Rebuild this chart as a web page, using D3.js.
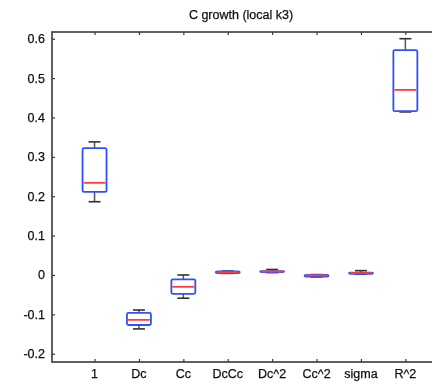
<!DOCTYPE html>
<html>
<head>
<meta charset="utf-8">
<script src="https://cdn.jsdelivr.net/npm/d3@7"></script>
<style>
  body { margin: 0; background: #fff; }
  text { font-family: 'Liberation Sans', Arial, sans-serif; fill: #111; stroke: #111; stroke-width: 0.25px; }
</style>
</head>
<body>
<div id="chart"></div>
<script>
const categories = ['1', 'Dc', 'Cc', 'DcCc', 'Dc^2', 'Cc^2', 'sigma', 'R^2']
const whiskerLow = [0.186, -0.137, -0.059, 0.004, 0.006, -0.005, 0.002, 0.414]
const q1 = [0.211, -0.127, -0.048, 0.005, 0.007, -0.004, 0.003, 0.416]
const medians = [0.234, -0.114, -0.030, 0.007, 0.009, -0.001, 0.005, 0.470]
const q3 = [0.322, -0.096, -0.011, 0.009, 0.010, 0.000, 0.006, 0.571]
const whiskerHigh = [0.338, -0.089, 0.000, 0.010, 0.014, 0.001, 0.011, 0.600]
const yTicks = [-0.2, -0.1, 0, 0.1, 0.2, 0.3, 0.4, 0.5, 0.6]
const title = 'C growth (local k3)'

const data = categories.map((c, i) => ({
  name: c, pos: i + 1,
  lo: whiskerLow[i], q1: q1[i], med: medians[i], q3: q3[i], hi: whiskerHigh[i]
}))

const W = 432, H = 385
const MARGIN = { LEFT: 52, TOP: 32, RIGHT: -8, BOTTOM: 23 }
const WIDTH = W - MARGIN.LEFT - MARGIN.RIGHT
const HEIGHT = H - MARGIN.TOP - MARGIN.BOTTOM

const svg = d3.select('#chart')
  .append('svg')
  .attr('width', W)
  .attr('height', H)

svg.append('defs').append('filter')
  .attr('id', 'soft')
  .append('feGaussianBlur')
  .attr('stdDeviation', 0.45)

const root = svg.append('g').attr('filter', 'url(#soft)')

const g = root.append('g')
  .attr('transform', `translate(${MARGIN.LEFT}, ${MARGIN.TOP})`)

const x = d3.scaleLinear()
  .domain([0.042, 8.78])
  .range([0, WIDTH])

const y = d3.scaleLinear()
  .domain([-0.221, 0.617])
  .range([HEIGHT, 0])

// title
root.append('text')
  .attr('x', 241)
  .attr('y', 19)
  .attr('text-anchor', 'middle')
  .attr('font-size', '12.5px')
  .text(title)

// frame
g.append('rect')
  .attr('x', 0)
  .attr('y', 0)
  .attr('width', WIDTH)
  .attr('height', HEIGHT)
  .attr('fill', 'none')
  .attr('stroke', '#444')
  .attr('stroke-width', 1.7)

// y axis (ticks inward)
const yAxisCall = d3.axisRight(y)
  .tickValues(yTicks)
  .tickSize(3)
  .tickFormat(d => '')
const yAxis = g.append('g').call(yAxisCall)
yAxis.select('.domain').remove()
yAxis.selectAll('line').attr('stroke', '#3a3a3a').attr('stroke-width', 1.2)

g.selectAll('.ylab')
  .data(yTicks)
  .enter()
  .append('text')
  .attr('class', 'ylab')
  .attr('x', -7)
  .attr('y', d => y(d))
  .attr('dy', '0.36em')
  .attr('text-anchor', 'end')
  .attr('font-size', '12.5px')
  .text(d => String(d))

// x ticks bottom and top (inward)
const xBottom = g.append('g')
  .attr('transform', `translate(0, ${HEIGHT})`)
  .call(d3.axisTop(x).tickValues(data.map(d => d.pos)).tickSize(3).tickFormat(''))
xBottom.select('.domain').remove()
xBottom.selectAll('line').attr('stroke', '#3a3a3a').attr('stroke-width', 1.2)

const xTop = g.append('g')
  .call(d3.axisBottom(x).tickValues(data.map(d => d.pos)).tickSize(3).tickFormat(''))
xTop.select('.domain').remove()
xTop.selectAll('line').attr('stroke', '#3a3a3a').attr('stroke-width', 1.2)

g.selectAll('.xlab')
  .data(data)
  .enter()
  .append('text')
  .attr('class', 'xlab')
  .attr('x', d => x(d.pos))
  .attr('y', HEIGHT + 16)
  .attr('text-anchor', 'middle')
  .attr('font-size', '12.5px')
  .text(d => d.name)

// boxes
const boxHalf = (x(1.27) - x(0.73)) / 2
const capHalf = (x(1.135) - x(0.865)) / 2

const boxes = g.selectAll('.box')
  .data(data)
  .enter()
  .append('g')
  .attr('class', 'box')

// whiskers
boxes.append('line')
  .attr('x1', d => x(d.pos)).attr('x2', d => x(d.pos))
  .attr('y1', d => y(d.hi)).attr('y2', d => y(d.q3))
  .attr('stroke', '#555').attr('stroke-width', 1.5)
boxes.append('line')
  .attr('x1', d => x(d.pos)).attr('x2', d => x(d.pos))
  .attr('y1', d => y(d.q1)).attr('y2', d => y(d.lo))
  .attr('stroke', '#555').attr('stroke-width', 1.5)

// caps
boxes.append('line')
  .attr('x1', d => x(d.pos) - capHalf).attr('x2', d => x(d.pos) + capHalf)
  .attr('y1', d => y(d.hi)).attr('y2', d => y(d.hi))
  .attr('stroke', '#333').attr('stroke-width', 1.6)
boxes.append('line')
  .attr('x1', d => x(d.pos) - capHalf).attr('x2', d => x(d.pos) + capHalf)
  .attr('y1', d => y(d.lo)).attr('y2', d => y(d.lo))
  .attr('stroke', '#333').attr('stroke-width', 1.6)

boxes.append('rect')
  .attr('x', d => x(d.pos) - boxHalf)
  .attr('y', d => y(d.q3))
  .attr('width', boxHalf * 2)
  .attr('height', d => Math.max(1, y(d.q1) - y(d.q3)))
  .attr('rx', 1.5)
  .attr('fill', 'none')
  .attr('stroke', '#3050ff')
  .attr('stroke-width', 1.8)

// medians
boxes.append('line')
  .attr('x1', d => x(d.pos) - boxHalf + 1).attr('x2', d => x(d.pos) + boxHalf - 1)
  .attr('y1', d => y(d.med)).attr('y2', d => y(d.med))
  .attr('stroke', '#ff3b3b').attr('stroke-width', 1.8)
</script>
</body>
</html>
